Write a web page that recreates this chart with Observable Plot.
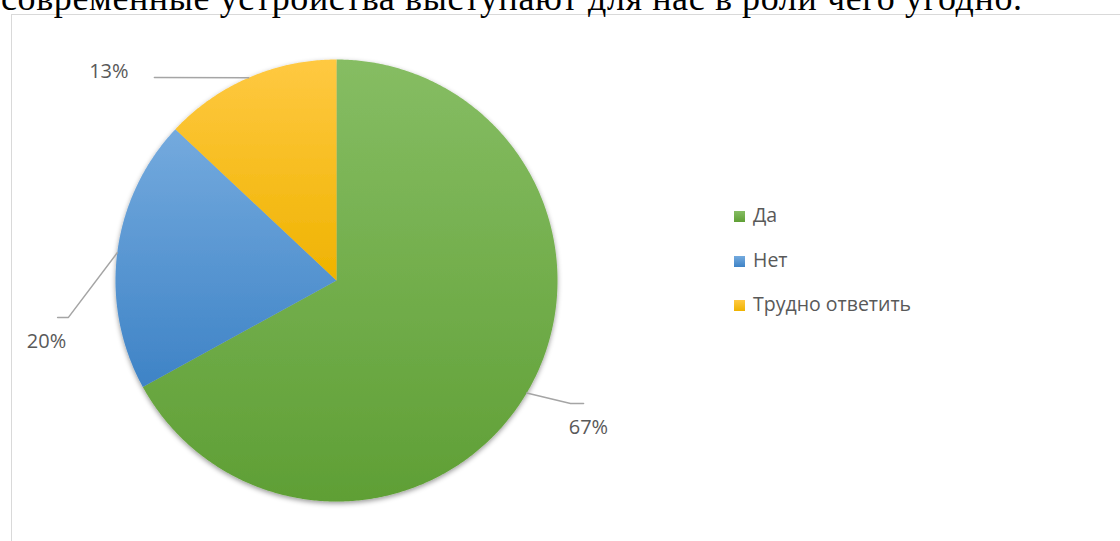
<!DOCTYPE html>
<html><head><meta charset="utf-8">
<script src="https://cdn.jsdelivr.net/npm/d3@7"></script>
<script src="https://cdn.jsdelivr.net/npm/@observablehq/plot@0.6"></script>
<style>
html,body{margin:0;padding:0;background:#fff;width:1120px;height:541px;overflow:hidden;position:relative;}
#box{position:absolute;left:11px;top:14px;width:1200px;height:700px;border:1px solid #d9d9d9;box-sizing:border-box;}
#title{position:absolute;left:0;top:-30px;}
#chart{position:absolute;left:0;top:0;}
#legend{position:absolute;left:734px;top:204px;font-family:"Open Sans",sans-serif;font-size:19.5px;color:#595959;}
.row{position:absolute;left:0;white-space:nowrap;height:22px;line-height:22px;}
.sw{display:inline-block;width:11px;height:11px;margin-right:8px;vertical-align:0px;}
</style></head>
<body>
<div id="box"></div>
<svg id="title" width="1120" height="50"><text x="1" y="40" font-family="'Liberation Serif','Times New Roman',serif" font-size="36" fill="#000" textLength="1021" lengthAdjust="spacing">современные устройства выступают для нас в роли чего угодно.</text></svg>
<div id="chart"></div>
<div id="legend"></div>
<script>
const categories = ["Да", "Нет", "Трудно ответить"];
const values = [67, 20, 13];
const labels = ["67%", "20%", "13%"];
const gradients = [["#86bd63", "#5f9f35"], ["#74aade", "#3e83c6"], ["#ffc942", "#efb300"]];
// leader line bend / end points and label anchors (layout, unit-radius coords)
const leaderLayout = [
  {elbow: [1.059, 0.557], end: [1.118, 0.557], label: [1.14, 0.665]},
  {elbow: [-1.213, 0.167], end: [-1.262, 0.167], label: [-1.312, 0.275]},
  {elbow: [-0.824, -0.919], end: [-0.824, -0.919], label: [-1.03, -0.945]}
];

const arcs = d3.pie().sort(null).value(d => d)(values);
const slicePts = arcs.map((a, i) => {
  const pts = [{x: 0, y: 0}];
  const n = Math.max(8, Math.ceil((a.endAngle - a.startAngle) / (Math.PI / 360)));
  for (let k = 0; k <= n; k++) {
    const t = a.startAngle + (a.endAngle - a.startAngle) * k / n;
    pts.push({x: Math.sin(t), y: -Math.cos(t)});
  }
  return pts;
});
const leaders = [];
const labelData = [];
arcs.forEach((a, i) => {
  const m = (a.startAngle + a.endAngle) / 2;
  const L = leaderLayout[i];
  leaders.push({c: i, x: Math.sin(m), y: -Math.cos(m)});
  leaders.push({c: i, x: L.elbow[0], y: L.elbow[1]});
  leaders.push({c: i, x: L.end[0], y: L.end[1]});
  labelData.push({x: L.label[0], y: L.label[1], t: labels[i]});
});

const svg = Plot.plot({
  width: 1120, height: 541, margin: 0,
  style: {background: "transparent"},
  x: {domain: [-1, 1], range: [115, 557], axis: null},
  y: {domain: [-1, 1], range: [59, 501], axis: null},
  marks: [
    ...slicePts.map((pts, i) => Plot.line(pts, {x: "x", y: "y", curve: "linear-closed", fill: `url(#grad${i})`, stroke: "none"})),
    Plot.line(leaders, {x: "x", y: "y", z: "c", stroke: "#a5a5a5", strokeWidth: 1.5}),
    Plot.text(labelData, {x: "x", y: "y", text: "t", fontSize: 20, fill: "#595959", fontFamily: "'Open Sans', sans-serif"})
  ]
});
const s = d3.select(svg);
const defs = s.insert("defs", ":first-child");
gradients.forEach((g, i) => {
  const lg = defs.append("linearGradient").attr("id", "grad" + i).attr("x1", 0).attr("y1", 0).attr("x2", 0).attr("y2", 1);
  lg.append("stop").attr("offset", 0).attr("stop-color", g[0]);
  lg.append("stop").attr("offset", 1).attr("stop-color", g[1]);
});
const f = defs.append("filter").attr("id", "shadow").attr("x", "-10%").attr("y", "-10%").attr("width", "120%").attr("height", "120%");
f.append("feGaussianBlur").attr("in", "SourceAlpha").attr("stdDeviation", 2.5);
f.append("feOffset").attr("dy", 1.5).attr("result", "ob");
f.append("feFlood").attr("flood-color", "#000").attr("flood-opacity", 0.4);
f.append("feComposite").attr("in2", "ob").attr("operator", "in").attr("result", "sh");
const fm = f.append("feMerge");
fm.append("feMergeNode").attr("in", "sh");
fm.append("feMergeNode").attr("in", "SourceGraphic");
const lineGroups = svg.querySelectorAll('g[aria-label="line"]');
const wrap = document.createElementNS("http://www.w3.org/2000/svg", "g");
wrap.setAttribute("filter", "url(#shadow)");
lineGroups[0].parentNode.insertBefore(wrap, lineGroups[0]);
for (let i = 0; i < 3; i++) wrap.appendChild(lineGroups[i]);
document.getElementById("chart").appendChild(svg);

const leg = d3.select("#legend");
categories.forEach((c, i) => {
  const r = leg.append("div").attr("class", "row").style("top", (i * 44.5) + "px");
  r.append("span").attr("class", "sw").style("background", `linear-gradient(${gradients[i][0]}, ${gradients[i][1]})`);
  r.append("span").text(c);
});
</script>
</body></html>
